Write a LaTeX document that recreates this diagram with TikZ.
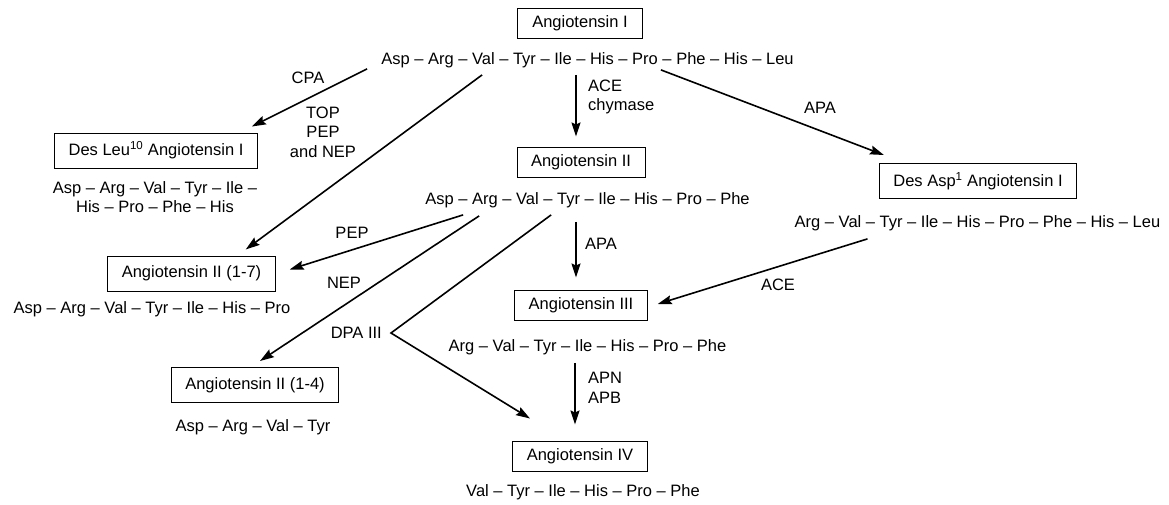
\documentclass[tikz,border=0pt]{standalone}
\usepackage{fontspec}
\setmainfont{Liberation Sans}
\usetikzlibrary{arrows.meta}

\begin{document}
\begin{tikzpicture}[x=1pt,y=-1pt,
  every node/.style={font=\fontsize{16.5}{19.5}\selectfont},
  peptide/.style={draw,line width=1pt,minimum width=125pt,minimum height=30pt,inner xsep=14pt,inner ysep=0pt},
  tallpeptide/.style={peptide,minimum height=35pt},
  seq/.style={inner sep=0pt,align=center},
  enz/.style={inner sep=0pt,align=center},
  arr/.style={-{Stealth[length=14pt,width=9pt,inset=2pt]},line width=1.6pt}]
\useasboundingbox (0,0) rectangle (1169,504);
% main chain
\node[peptide] (ang1) at (580,23) {Angiotensin I};
\node[seq] (seq1) at (587.5,60) {Asp -- Arg -- Val -- Tyr -- Ile -- His -- Pro -- Phe -- His -- Leu};
\node[peptide] (ang2) at (581,162) {Angiotensin II};
\node[seq] (seq2) at (587.5,200) {Asp -- Arg -- Val -- Tyr -- Ile -- His -- Pro -- Phe};
\node[peptide] (ang3) at (581,305) {Angiotensin III};
\node[seq] (seq3) at (587.5,347) {Arg -- Val -- Tyr -- Ile -- His -- Pro -- Phe};
\node[peptide] (ang4) at (580,456) {Angiotensin IV};
\node[seq] (seq4) at (583,492) {Val -- Tyr -- Ile -- His -- Pro -- Phe};
% side products
\node[tallpeptide] (desleu) at (156,150.5) {Des Leu\textsuperscript{10} Angiotensin I};
\node[seq] (seqleu) at (155,197) {Asp -- Arg -- Val -- Tyr -- Ile --\\His -- Pro -- Phe -- His};
\node[tallpeptide] (desasp) at (978,181) {Des Asp\textsuperscript{1} Angiotensin I};
\node[seq] (seqasp) at (977.5,223) {Arg -- Val -- Tyr -- Ile -- His -- Pro -- Phe -- His -- Leu};
\node[tallpeptide] (a17) at (191.5,273.5) {Angiotensin II (1-7)};
\node[seq] (seq17) at (152,309) {Asp -- Arg -- Val -- Tyr -- Ile -- His -- Pro};
\node[tallpeptide] (a14) at (255,385) {Angiotensin II (1-4)};
\node[seq] (seq14) at (253,427) {Asp -- Arg -- Val -- Tyr};
% enzymes
\node[enz] (cpa) at (308,78) {CPA};
\node[enz] (topnep) at (323,132) {TOP\\PEP\\and NEP};
\node[enz,anchor=west,align=left] (ace1) at (588,97) {ACE\\chymase};
\node[enz] (apa1) at (820,108) {APA};
\node[enz,anchor=west] (apa2) at (585,244) {APA};
\node[enz] (ace2) at (778,285) {ACE};
\node[enz] (pep) at (352,233) {PEP};
\node[enz] (nep) at (344,283) {NEP};
\coordinate (dpa) at (391,333);
\node[enz,anchor=east] (dpalbl) at ([xshift=-9pt]dpa) {DPA III};
\node[enz,anchor=west,align=left] (apn) at (588,388) {APN\\APB};
% arrows
\draw[arr] ([xshift=-14pt,yshift=-1pt]seq1.south west) -- ([xshift=-6pt,yshift=6pt]desleu.north east);
\draw[arr] ([xshift=101pt,yshift=-7pt]seq1.south west) -- ([xshift=-30pt,yshift=6pt]a17.north east);
\draw[arr] ([xshift=-5pt,yshift=-7pt]seq1.south -| ang2.north) -- ([xshift=-5pt,yshift=10pt]ang2.north);
\draw[arr] ([xshift=-133pt,yshift=-2pt]seq1.south east) -- ([xshift=5pt,yshift=8pt]desasp.north west);
\draw[arr] ([xshift=-5pt,yshift=-14pt]seq2.south -| ang3.north) -- ([xshift=-5pt,yshift=12pt]ang3.north);
\draw[arr] ([xshift=73pt,yshift=-8pt]seqasp.south west) -- ([xshift=10pt,yshift=1pt]ang3.east);
\draw[arr] ([xshift=38pt,yshift=-7pt]seq2.south west) -- ([xshift=14pt,yshift=4pt]a17.east);
\draw[arr] ([xshift=54pt,yshift=-8pt]seq2.south west) -- ([xshift=5pt,yshift=6pt]a14.north);
\draw[arr] ([xshift=126pt,yshift=-7pt]seq2.south west) -- (dpa) -- ([xshift=-50pt,yshift=22pt]ang4.north);
\draw[arr] ([xshift=-5pt,yshift=-8pt]seq3.south -| ang4.north) -- ([xshift=-5pt,yshift=16pt]ang4.north);
\end{tikzpicture}
\end{document}
